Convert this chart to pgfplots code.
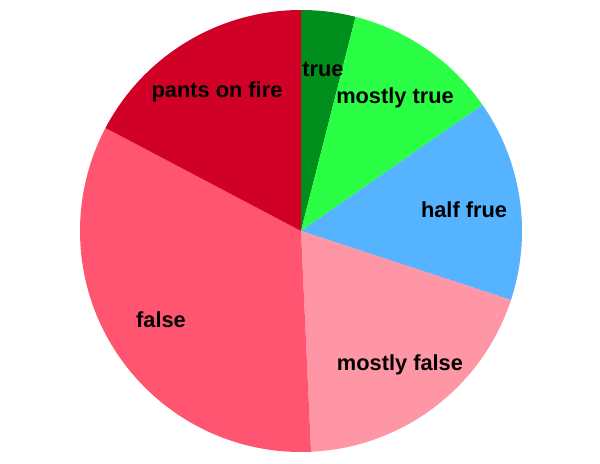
\documentclass[border=0pt]{standalone}
\usepackage{pgfplots}
\pgfplotsset{compat=1.18}
\usepackage{fontspec}
\setmainfont{Liberation Sans}
\definecolor{ctrue}{HTML}{008F1C}
\definecolor{cmtrue}{HTML}{2BFF45}
\definecolor{chalf}{HTML}{55B3FF}
\definecolor{cmfalse}{HTML}{FF96A5}
\definecolor{cfalse}{HTML}{FF5570}
\definecolor{cpants}{HTML}{D00026}
% shares (percent): true 3.97, mostly true 11.36, half true 14.72,
% mostly false 19.22, false 33.44, pants on fire 17.28
% boundaries as angles (deg, counter-clockwise from +x, clockwise run from top)
\def\aA{90}\def\aB{75.7}\def\aC{34.8}\def\aD{-18.2}\def\aE{-87.4}\def\aF{-207.8}\def\aG{-270}
\begin{document}
\begin{tikzpicture}
\begin{axis}[
  width=300pt, height=231.5pt, scale only axis,
  xmin=0, xmax=600, ymin=0, ymax=463,
  hide axis, clip=false,
]
\path (axis cs:0,0) rectangle (axis cs:600,463);
\def\R{110.5pt}
\fill[ctrue]  (axis cs:301,232) -- ++(\aA:\R) arc[start angle=\aA, end angle=\aB, radius=\R] -- cycle;
\fill[cmtrue] (axis cs:301,232) -- ++(\aB:\R) arc[start angle=\aB, end angle=\aC, radius=\R] -- cycle;
\fill[chalf]  (axis cs:301,232) -- ++(\aC:\R) arc[start angle=\aC, end angle=\aD, radius=\R] -- cycle;
\fill[cmfalse](axis cs:301,232) -- ++(\aD:\R) arc[start angle=\aD, end angle=\aE, radius=\R] -- cycle;
\fill[cfalse] (axis cs:301,232) -- ++(\aE:\R) arc[start angle=\aE, end angle=\aF, radius=\R] -- cycle;
\fill[cpants] (axis cs:301,232) -- ++(\aF:\R) arc[start angle=\aF, end angle=\aG, radius=\R] -- cycle;
\begin{scope}[every node/.style={font=\fontsize{10.9}{13}\selectfont\bfseries, inner sep=0pt}]
\node at (axis cs:323,394) {true};
\node at (axis cs:395,365) {mostly true};
\node at (axis cs:464,253) {half frue};
\node at (axis cs:400,98) {mostly false};
\node at (axis cs:161,143) {false};
\node at (axis cs:217,371) {pants on fire};
\end{scope}
\end{axis}
\end{tikzpicture}
\end{document}
